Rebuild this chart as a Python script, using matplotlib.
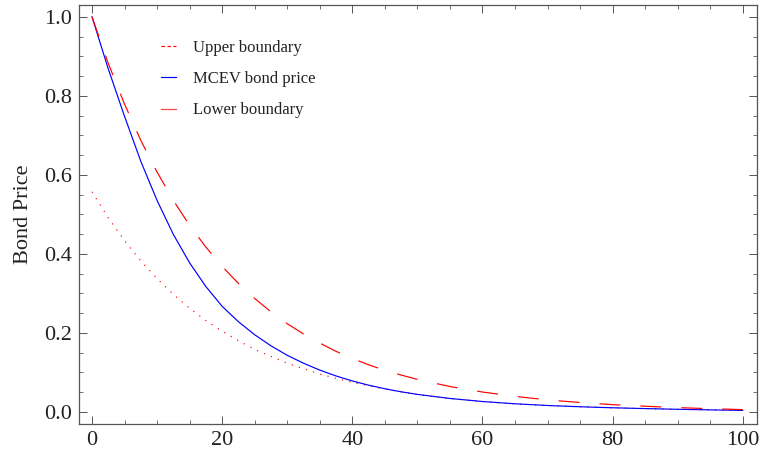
import matplotlib
matplotlib.use('Agg')
import matplotlib.pyplot as plt
from matplotlib.ticker import MultipleLocator, FormatStrFormatter

plt.rcParams['font.family'] = ['Liberation Serif', 'DejaVu Serif']
plt.rcParams['lines.scale_dashes'] = False

# time axis (years)
t = [0, 2.5, 5, 7.5, 10, 12.5, 15, 17.5, 20, 22.5, 25, 27.5, 30, 32.5, 35,
     37.5, 40, 42.5, 45, 47.5, 50, 55, 60, 65, 70, 75, 80, 85, 90, 95, 100]

upper = [0.557, 0.491, 0.433, 0.382, 0.337, 0.297, 0.262, 0.231, 0.204, 0.180,
         0.158, 0.140, 0.123, 0.109, 0.0957, 0.0844, 0.0745, 0.0657, 0.0578, 0.0503,
         0.0438, 0.0335, 0.0258, 0.0200, 0.0158, 0.0126, 0.0100, 0.0080, 0.0062, 0.0047, 0.0034]

mcev = [1.000, 0.868, 0.748, 0.634, 0.535, 0.449, 0.377, 0.317, 0.267, 0.228,
        0.195, 0.167, 0.143, 0.123, 0.1055, 0.0907, 0.0780, 0.0674, 0.0583, 0.0506,
        0.0440, 0.0337, 0.0260, 0.0202, 0.0159, 0.0127, 0.0101, 0.0081, 0.0063, 0.0048, 0.0035]

lower = [1.000, 0.882, 0.779, 0.687, 0.607, 0.535, 0.472, 0.417, 0.368, 0.325,
         0.287, 0.253, 0.223, 0.197, 0.174, 0.153, 0.135, 0.119, 0.105, 0.093,
         0.082, 0.064, 0.050, 0.039, 0.030, 0.0235, 0.018, 0.014, 0.0105, 0.0078, 0.0055]

labels = ['Upper boundary', 'MCEV bond price', 'Lower boundary']
ylabel = 'Bond Price'

fig = plt.figure(figsize=(7.59, 4.55), dpi=100)
ax = fig.add_axes([0.1041, 0.0681, 0.8933, 0.9209])

l1, = ax.plot(t, upper, color='red', lw=0.85, linestyle=(0, (0.85, 4.55)), label=labels[0])
l2, = ax.plot(t, mcev, color='blue', lw=0.85, label=labels[1])
l3, = ax.plot(t, lower, color='red', lw=0.85, linestyle=(0, (15.1, 14.4)), label=labels[2])

ax.set_xlim(-2, 102.2)
ax.set_ylim(-0.031, 1.030)
ax.xaxis.set_major_locator(MultipleLocator(20))
ax.xaxis.set_minor_locator(MultipleLocator(5))
ax.yaxis.set_major_locator(MultipleLocator(0.2))
ax.yaxis.set_minor_locator(MultipleLocator(0.05))
ax.yaxis.set_major_formatter(FormatStrFormatter('%.1f'))
ax.xaxis.set_major_formatter(FormatStrFormatter('%d'))

spine_col = '#555555'
for s in ax.spines.values():
    s.set_color(spine_col)
    s.set_linewidth(0.9)
ax.tick_params(which='both', direction='in', top=True, right=True, color=spine_col,
               labelsize=16, labelcolor='#222222')
ax.tick_params(which='major', length=6, width=0.7, pad=5)
ax.tick_params(which='minor', length=3.2, width=0.6)

ax.set_ylabel(ylabel, fontsize=16, color='#222222', labelpad=8)

leg = ax.legend(loc='upper left', bbox_to_anchor=(0.121, 0.917), frameon=False,
                fontsize=12, handlelength=0.9, handletextpad=1.0, labelspacing=0.92,
                borderpad=0, borderaxespad=0)
leg.get_lines()[0].set_linestyle((0, (2.6, 1.7)))
leg.get_lines()[2].set_linestyle('-')
leg.get_lines()[2].set_alpha(0.75)
for txt in leg.get_texts():
    txt.set_color('#222222')

fig.savefig('out.png', dpi=100)
